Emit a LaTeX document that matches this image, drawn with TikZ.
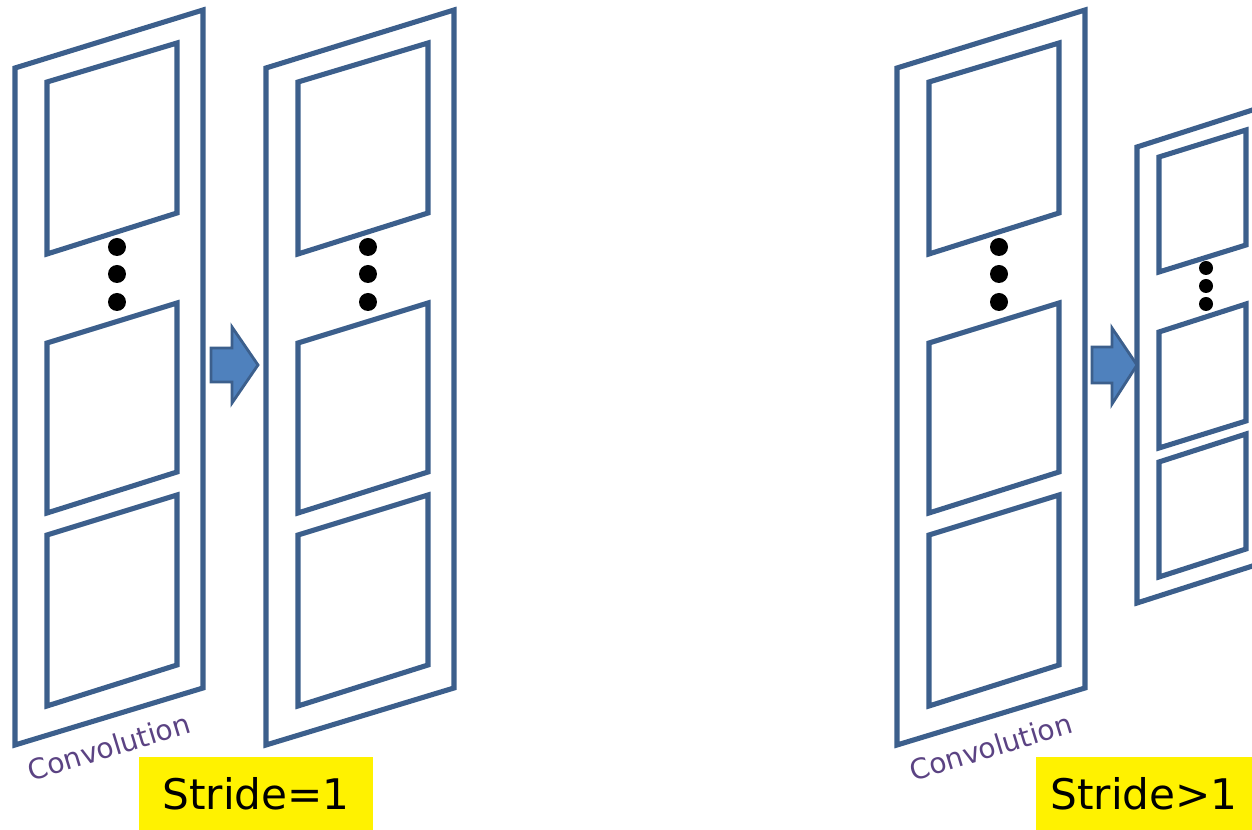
\documentclass[tikz,border=0pt]{standalone}
\usepackage{fontspec}
\setmainfont{DejaVu Sans}
\usepackage{xcolor}

\definecolor{bordure}{HTML}{3C5F8C}
\definecolor{remplissage}{HTML}{4F81BD}
\definecolor{texteconv}{HTML}{5B4383}

\tikzset{
  cadre/.style={draw=bordure, line width=2.9pt},
  fleche/.style={fill=remplissage, draw=bordure, line width=1.6pt},
  point/.style={fill=black},
  etiquette/.style={text=texteconv, rotate=17, font=\fontsize{16}{18}\selectfont},
  pas/.style={fill=yellow, inner sep=0pt, minimum height=1.46cm, font=\fontsize{24}{28}\selectfont}
}

\begin{document}
\begin{tikzpicture}[x=0.02cm, y=-0.02cm]
                \useasboundingbox (0,0) rectangle (1252,830);
                \clip (0,0) rectangle (1252,830);

                % Colonnes completes
                \foreach \dx in {0,251,882} {
                  \begin{scope}[shift={(\dx,0)}]
                    \draw[cadre] (15,68) -- (203,10) -- (203,688) -- (15,745) -- cycle;
                    \draw[cadre] (47,82) -- (177,43) -- (177,213) -- (47,254) -- cycle;
                    \draw[cadre] (47,343) -- (177,303) -- (177,472) -- (47,513) -- cycle;
                    \draw[cadre] (47,535) -- (177,495) -- (177,665) -- (47,706) -- cycle;
                    \fill[point] (117,247) circle (0.18cm);
                    \fill[point] (117,274) circle (0.18cm);
                    \fill[point] (117,302) circle (0.18cm);
                  \end{scope}
                }

                % Colonne reduite
                \draw[cadre] (1290,98) -- (1137,147) -- (1137,603) -- (1290,554);
                \draw[cadre] (1159,157) -- (1246,130) -- (1246,245) -- (1159,272) -- cycle;
                \draw[cadre] (1159,332) -- (1246,304) -- (1246,421) -- (1159,448) -- cycle;
                \draw[cadre] (1159,462) -- (1246,434) -- (1246,549) -- (1159,577) -- cycle;
                \fill[point] (1206,268) circle (0.14cm);
                \fill[point] (1206,286) circle (0.14cm);
                \fill[point] (1206,304) circle (0.14cm);

                % Fleches
                \filldraw[fleche] (211,348) -- (232,348) -- (232,327) -- (258,365)
                  -- (232,403) -- (232,382) -- (211,382) -- cycle;
                \filldraw[fleche] (1092,347) -- (1112,347) -- (1112,328) -- (1137,365)
                  -- (1112,404) -- (1112,383) -- (1092,383) -- cycle;

                % Textes
                \node[etiquette] (conv1) at (109,747) {Convolution};
                \node[etiquette] (conv2) at (991,747) {Convolution};
                \node[pas, minimum width=4.68cm] (pas1) at (256,793.5) {Stride=1};
                \node[pas, minimum width=4.32cm] (pas2) at (1144,793.5) {Stride>1};
            \end{tikzpicture}
\end{document}
